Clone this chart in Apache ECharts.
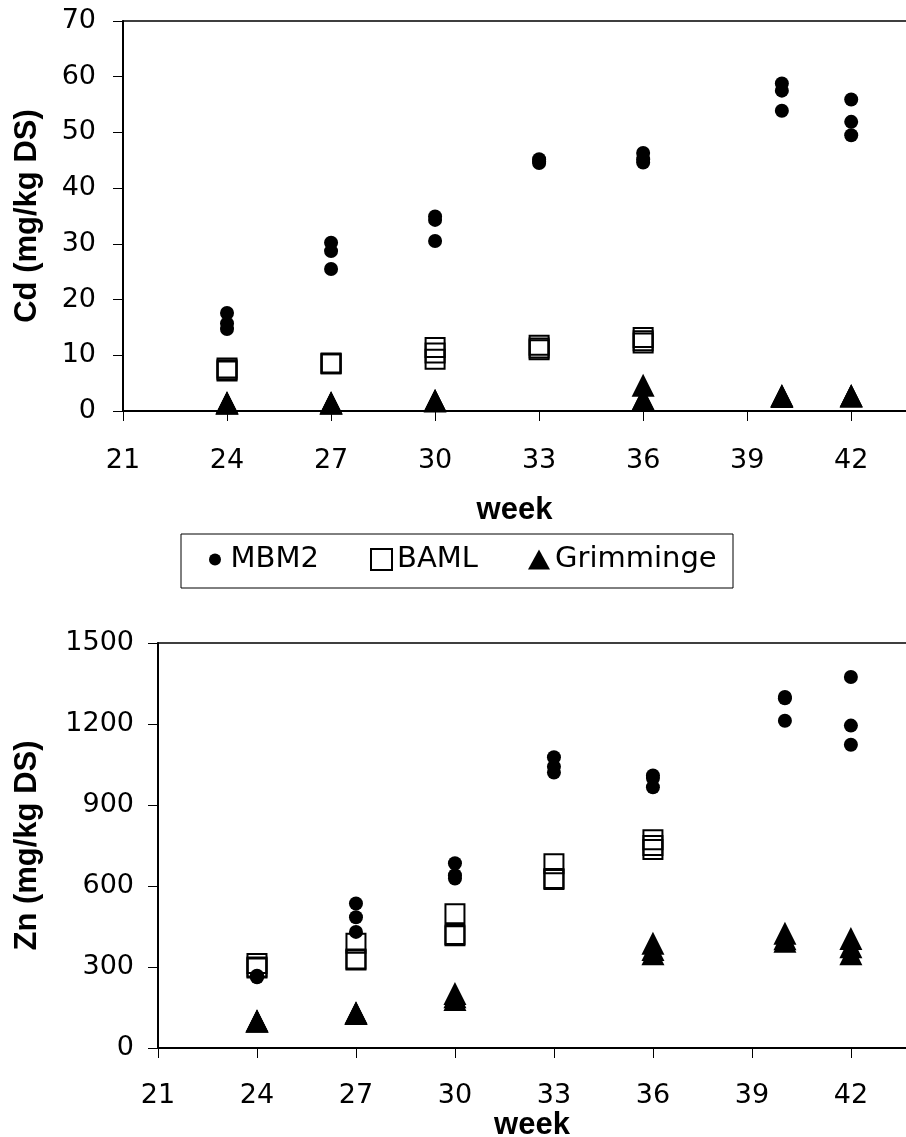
<!DOCTYPE html>
<html><head><meta charset="utf-8">
<script src="https://cdn.jsdelivr.net/npm/echarts@6/dist/echarts.min.js"></script>
<style>html,body{margin:0;padding:0;background:#fff}#c{width:906px;height:1137px}</style>
</head><body><div id="c"></div>
<script>
// sampling weeks (x values)
const weeks = [24, 27, 30, 33, 36, 40, 42];
const seriesNames = ['MBM2', 'BAML', 'Grimminge'];
const xAxisName = 'week';
const cdAxisName = 'Cd (mg/kg DS)';
const znAxisName = 'Zn (mg/kg DS)';

// Cd (mg/kg DS), three replicates per week; null = no sample
const cdMBM2 = [[17.6,15.7,14.7],[30.2,28.7,25.5],[34.9,34.3,30.5],[45.2,44.8,44.5],[46.3,45.2,44.6],[58.8,57.5,53.9],[55.9,51.9,49.5]];
const cdBAML = [[7.7,7.4,7.2],[8.6,8.5,8.5],[11.4,10.4,9.3],[11.8,11.3,11.0],[13.2,12.6,12.2],null,null];
const cdGrim = [[1.5,1.4,1.5],[1.5,1.5,1.4],[1.9,1.9,1.8],null,[4.6,2.2,2.1],[2.7,2.8,2.6],[2.7,2.7,2.8]];

// Zn (mg/kg DS)
const znMBM2 = [[268,262,265],[535,484,430],[684,640,628],[1077,1042,1020],[1009,1000,966],[1300,1295,1212],[1374,1194,1123]];
const znBAML = [[313,300,296],[388,330,326],[497,420,416],[682,628,624],[771,750,735],null,null];
const znGrim = [[101,100,99],[131,130,128],[202,190,180],null,[388,365,349],[425,405,395],[406,375,349]];

function pts(vals){
  const out = [];
  vals.forEach((g,i)=>{ if (g) g.forEach(v=>out.push([weeks[i], v])); });
  return out;
}

const tickFont = {fontFamily:'DejaVu Sans', fontSize:27, color:'#000'};
const nameFont = {fontFamily:'Liberation Sans', fontSize:31, fontWeight:'bold', color:'#000'};

function xAx(grid, xmax, margin, gap){
  return {type:'value', gridIndex:grid, min:21, max:xmax, interval:3,
    axisLine:{show:true, onZero:false, lineStyle:{color:'#000', width:2}},
    axisTick:{show:true, length:10, lineStyle:{color:'#000', width:1}},
    axisLabel:Object.assign({margin:margin, showMaxLabel:false, formatter:v=>String(v)}, tickFont),
    splitLine:{show:false},
    name:xAxisName, nameLocation:'middle', nameGap:gap, nameTextStyle:nameFont};
}
function xTop(grid, xmax){
  return {type:'value', gridIndex:grid, position:'top', min:21, max:xmax,
    axisLine:{show:true, onZero:false, lineStyle:{color:'#000', width:1.5}},
    axisTick:{show:false}, axisLabel:{show:false}, splitLine:{show:false}};
}
function yAx(grid, max, interval, name, margin, gap){
  return {type:'value', gridIndex:grid, min:0, max:max, interval:interval,
    axisLine:{show:true, lineStyle:{color:'#000', width:2}},
    axisTick:{show:true, length:10, lineStyle:{color:'#000', width:1}},
    axisLabel:Object.assign({margin:margin, formatter:v=>String(v)}, tickFont),
    splitLine:{show:false},
    name:name, nameLocation:'middle', nameGap:gap, nameTextStyle:nameFont};
}

const styles = {
  MBM2: {symbol:'circle', symbolSize:14, itemStyle:{color:'#000', opacity:1}},
  BAML: {symbol:'rect', symbolSize:19, itemStyle:{color:'rgba(0,0,0,0)', borderColor:'#000', borderWidth:2, opacity:1}},
  Grimminge: {symbol:'triangle', symbolSize:[23,23], itemStyle:{color:'#000', opacity:1}}
};
function ser(name, data, idx){
  return Object.assign({type:'scatter', name:name, xAxisIndex:idx, yAxisIndex:idx, data:pts(data), silent:true, z:2}, styles[name]);
}

const legendText = {fontFamily:'DejaVu Sans', fontSize:29, color:'#000'};
function leg(name, left, w, h){
  return {show:true, left:left, top:545, padding:0, itemWidth:w, itemHeight:h, selectedMode:false,
    data:[name], textStyle:legendText, itemGap:0};
}

const chart = echarts.init(document.getElementById('c'), null, {renderer:'canvas'});
chart.setOption({
  animation:false,
  backgroundColor:'#fff',
  grid:[
    {left:123, top:21, right:0, height:390, show:false, outerBoundsMode:'none', containLabel:false},
    {left:158, top:643, right:0, height:405, show:false, outerBoundsMode:'none', containLabel:false}
  ],
  xAxis:[xAx(0, 43.58, 36, 84), xAx(1, 43.67, 34, 51), xTop(0, 43.58), xTop(1, 43.67)],
  yAxis:[yAx(0, 70, 10, cdAxisName, 27, 80), yAx(1, 1500, 300, znAxisName, 24, 115)],
  legend:[leg('MBM2', 209, 21, 12), leg('BAML', 370, 21, 21), leg('Grimminge', 528, 22, 20)],
  graphic:[{type:'rect', shape:{x:181, y:534, width:552, height:54}, style:{fill:'none', stroke:'#000', lineWidth:1}, silent:true}],
  series:[
    ser('MBM2', cdMBM2, 0), ser('BAML', cdBAML, 0), ser('Grimminge', cdGrim, 0),
    ser('MBM2', znMBM2, 1), ser('BAML', znBAML, 1), ser('Grimminge', znGrim, 1)
  ]
});
</script></body></html>
